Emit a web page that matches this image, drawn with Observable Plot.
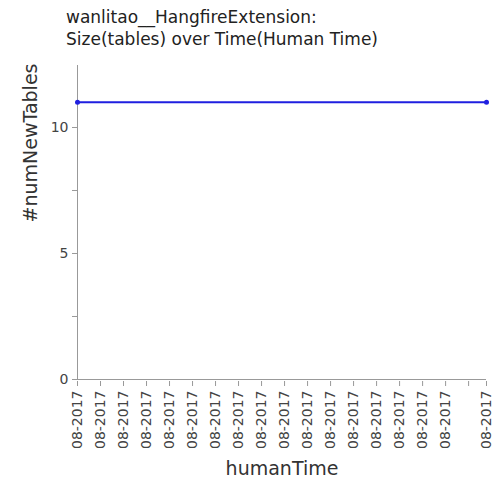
<!DOCTYPE html>
<html>
<head>
<script src="https://cdn.jsdelivr.net/npm/d3@7"></script>
<script src="https://cdn.jsdelivr.net/npm/@observablehq/plot@0.6"></script>
<style>
body{margin:0;font-family:"DejaVu Sans",sans-serif;}
#wrap{position:relative;width:500px;height:500px;}
#title{position:absolute;left:66px;top:6px;font-size:17px;line-height:22px;color:#222;}
</style>
</head>
<body>
<div id="wrap"><div id="title">wanlitao__HangfireExtension:<br>Size(tables) over Time(Human Time)</div><div id="chart"></div></div>
<script>
const times = [new Date(2017, 7, 1), new Date(2017, 7, 18, 18, 40)];
const numNewTables = [11, 11];
const data = times.map((t, i) => ({humanTime: t, numNewTables: numNewTables[i]}));

const dayTicks = d3.range(18).map(i => new Date(2017, 7, 1 + i));
const xTicks = dayTicks.concat([times[1]]);
const fmt = d3.timeFormat("%m-%Y");

const chart = Plot.plot({
  width: 500,
  height: 500,
  marginLeft: 77,
  marginRight: 14,
  marginTop: 65,
  marginBottom: 121,
  style: {fontFamily: "DejaVu Sans", fontSize: "14px", color: "#444"},
  x: {type: "time", domain: [times[0], times[1]], label: null},
  y: {domain: [0, 12.46], label: null},
  marks: [
    Plot.ruleY([0], {stroke: "#999"}),
    Plot.ruleX([times[0]], {stroke: "#999"}),
    Plot.axisX({ticks: xTicks, tickRotate: -90, tickSize: 5, stroke: "#999",
      tickFormat: (d, i) => (i === 17 ? "" : fmt(d)), fill: "#444", fontSize: 14, textAnchor: "end", dy: 2}),
    Plot.axisY({ticks: d3.range(0, 12.5, 2.5), tickSize: 5, stroke: "#999",
      tickFormat: d => (d % 5 === 0 ? d : ""), fill: "#444", fontSize: 14}),
    Plot.line(data, {x: "humanTime", y: "numNewTables", stroke: "#1f1fe0", strokeWidth: 2}),
    Plot.dot(data, {x: "humanTime", y: "numNewTables", fill: "#1f1fe0", r: 2.5}),
    Plot.text(["humanTime"], {frameAnchor: "bottom", dy: 95, fontSize: 19, fill: "#333"}),
    Plot.text(["#numNewTables"], {frameAnchor: "left", dx: -47, rotate: -90, fontSize: 19, fill: "#333"})
  ]
});
d3.select("#chart").append(() => chart);
</script>
</body>
</html>
